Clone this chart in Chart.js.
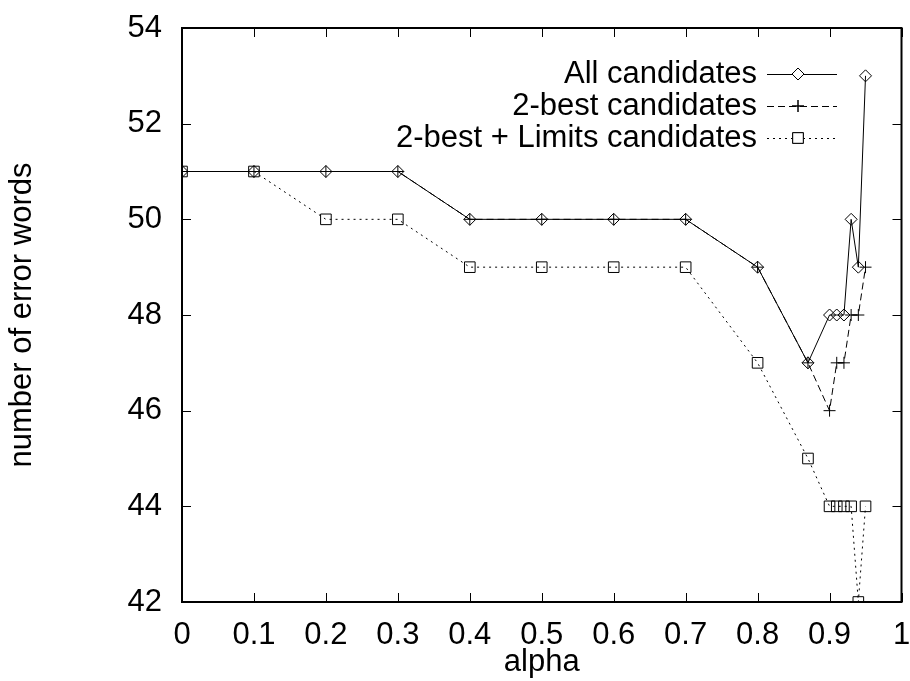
<!DOCTYPE html>
<html>
<head>
<meta charset="utf-8">
<script src="https://cdn.jsdelivr.net/npm/chart.js@4/dist/chart.umd.min.js"></script>
<style>
  html, body { margin: 0; padding: 0; background: #fff; }
  #wrap { width: 910px; height: 681px; }
</style>
</head>
<body>
<div id="wrap"><canvas id="chart" width="910" height="681"></canvas></div>
<script>
const alphaAll = [0, 0.1, 0.2, 0.3, 0.4, 0.5, 0.6, 0.7, 0.8, 0.87, 0.9, 0.91, 0.92, 0.93, 0.94, 0.95];
const allCandidates = [51, 51, 51, 51, 50, 50, 50, 50, 49, 47, 48, 48, 48, 50, 49, 53];
const twoBest = [51, 51, 51, 51, 50, 50, 50, 50, 49, 47, 46, 47, 47, 48, 48, 49];
const twoBestLimits = [51, 51, 50, 50, 49, 49, 49, 49, 47, 45, 44, 44, 44, 44, 42, 44];
const xTicks = [0, 0.1, 0.2, 0.3, 0.4, 0.5, 0.6, 0.7, 0.8, 0.9, 1];
const yTicks = [42, 44, 46, 48, 50, 52, 54];

const FONT = 'Liberation Sans, Arial, Helvetica, sans-serif';
const FS = 31;
const pts = vals => vals.map((v, i) => ({ x: alphaAll[i], y: v }));

const seriesStyle = [
  { label: 'All candidates', data: allCandidates, dash: [], shape: 'rectRot', r: 6 },
  { label: '2-best candidates', data: twoBest, dash: [7, 4], shape: 'cross', r: 6 },
  { label: '2-best + Limits candidates', data: twoBestLimits, dash: [2, 4], shape: 'rect', r: 7.5 },
];

const datasets = seriesStyle.map((s, i) => ({
  label: s.label,
  data: pts(s.data),
  borderColor: '#000',
  borderWidth: 1,
  borderDash: s.dash,
  backgroundColor: '#fff',
  pointStyle: s.shape,
  pointRadius: s.r,
  pointBorderColor: '#000',
  pointBackgroundColor: s.shape === 'cross' ? '#000' : 'rgba(255,255,255,0)',
  pointBorderWidth: 1,
  tension: 0,
  order: 2 - i,
}));

// gnuplot-style frame, inward ticks and right-side legend
const frame = {
  id: 'frame',
  afterDraw(chart) {
    const { ctx, chartArea: a, scales } = chart;
    ctx.save();
    ctx.strokeStyle = '#000';
    ctx.lineWidth = 2;
    ctx.strokeRect(a.left, a.top, a.right - a.left, a.bottom - a.top);
    ctx.lineWidth = 1;
    ctx.beginPath();
    xTicks.forEach(t => {
      const x = Math.round(scales.x.getPixelForValue(t)) + 0.5;
      ctx.moveTo(x, a.bottom); ctx.lineTo(x, a.bottom - 9);
      ctx.moveTo(x, a.top); ctx.lineTo(x, a.top + 9);
    });
    yTicks.forEach(t => {
      const y = Math.round(scales.y.getPixelForValue(t)) + 0.5;
      ctx.moveTo(a.left, y); ctx.lineTo(a.left + 9, y);
      ctx.moveTo(a.right, y); ctx.lineTo(a.right - 9, y);
    });
    ctx.stroke();

    // legend
    ctx.font = FS + 'px ' + FONT;
    ctx.textAlign = 'right';
    ctx.textBaseline = 'middle';
    ctx.fillStyle = '#000';
    seriesStyle.forEach((s, i) => {
      const y = 74 + i * 32;
      ctx.fillText(s.label, 757, y);
      ctx.setLineDash(s.dash);
      ctx.beginPath();
      ctx.moveTo(767, y + 0.5); ctx.lineTo(837, y + 0.5);
      ctx.stroke();
      ctx.setLineDash([]);
      Chart.helpers.drawPoint(ctx, { pointStyle: s.shape, radius: s.r, rotation: 0, borderWidth: 1 }, 798, y);
      if (s.shape !== 'cross') { ctx.fillStyle = '#fff'; ctx.fill(); ctx.fillStyle = '#000'; }
      ctx.stroke();
    });
    ctx.restore();
  }
};

new Chart(document.getElementById('chart'), {
  type: 'line',
  data: { datasets },
  options: {
    responsive: false,
    animation: false,
    layout: { padding: { top: 28, right: 0, left: 0, bottom: 0 } },
    plugins: { legend: { display: false }, tooltip: { enabled: false } },
    scales: {
      x: {
        type: 'linear', min: 0, max: 1,
        afterBuildTicks: sc => { sc.ticks = xTicks.map(v => ({ value: v })); },
        afterFit: sc => { sc.height = 79; sc.paddingRight = 7; sc.paddingLeft = 0; },
        grid: { display: false, drawTicks: false },
        border: { display: false },
        ticks: {
          color: '#000', padding: 15, maxRotation: 0, autoSkip: false,
          font: { family: FONT, size: FS },
          callback: v => (v === 0 || v === 1) ? String(v) : v.toFixed(1),
        },
        title: { display: true, text: 'alpha', color: '#000', font: { family: FONT, size: FS }, padding: { top: 0, bottom: 0 } },
      },
      y: {
        type: 'linear', min: 42, max: 54,
        afterBuildTicks: sc => { sc.ticks = yTicks.map(v => ({ value: v })); },
        afterFit: sc => { sc.width = 182; sc.paddingTop = 0; sc.paddingBottom = 0; },
        grid: { display: false, drawTicks: false },
        border: { display: false },
        ticks: {
          color: '#000', padding: 20, autoSkip: false,
          font: { family: FONT, size: FS },
        },
        title: { display: true, text: 'number of error words', color: '#000', font: { family: FONT, size: FS }, padding: { top: 4, bottom: 0 } },
      },
    },
  },
  plugins: [frame],
});
</script>
</body>
</html>
